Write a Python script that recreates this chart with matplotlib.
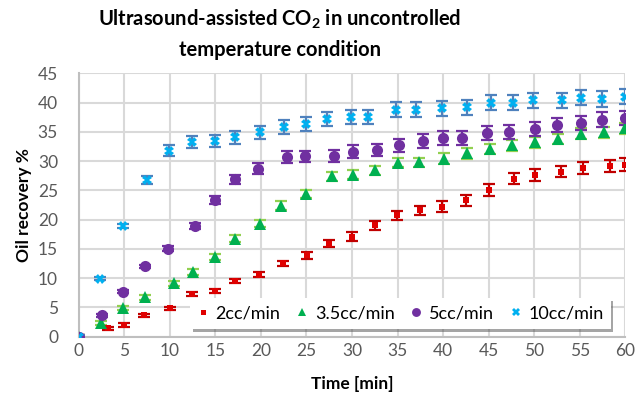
import matplotlib
matplotlib.use("Agg")
import matplotlib.pyplot as plt

plt.rcParams['font.family'] = ['Lato', 'DejaVu Sans']
plt.rcParams['mathtext.fontset'] = 'custom'
plt.rcParams['mathtext.rm'] = 'Lato'
plt.rcParams['mathtext.bf'] = 'Lato:bold'

#------------------------------------------------------------------------------
#   DATA
#------------------------------------------------------------------------------
t_2cc = [0, 3.2, 5, 7.1, 10, 12.4, 15, 17.2, 19.8, 22.4, 25.1, 27.5, 30,
         32.5, 34.9, 37.5, 39.9, 42.5, 45, 47.8, 50.1, 52.9, 55.4, 58.3, 60]
oil_2cc = [0, 1.4, 2.0, 3.6, 4.8, 7.3, 7.8, 9.5, 10.6, 12.5, 13.9, 15.9, 17.1,
           19.0, 20.7, 21.6, 22.2, 23.3, 25.1, 27.0, 27.6, 28.2, 28.8, 29.2, 29.4]
err_2cc = [0.2, 0.3, 0.3, 0.3, 0.3, 0.3, 0.4, 0.4, 0.5, 0.5, 0.6, 0.6, 0.7,
           0.8, 0.8, 0.8, 0.9, 0.9, 1.0, 1.0, 1.0, 1.0, 1.0, 1.0, 1.1]

t_35cc = [0, 2.4, 4.9, 7.3, 10.4, 12.5, 14.9, 17.1, 19.9, 22.2, 24.9, 27.8, 30.1,
          32.5, 35.1, 37.4, 40.1, 42.6, 45.1, 47.6, 50.1, 52.6, 55.2, 57.7, 60]
oil_35cc = [0, 2.3, 4.9, 6.7, 9.1, 11.0, 13.6, 16.7, 19.3, 22.4, 24.3, 27.4, 27.7,
            28.4, 29.7, 29.8, 30.4, 31.3, 32.1, 32.7, 33.2, 33.8, 34.7, 34.9, 35.6]
err_35cc = [0.2, 0.3, 0.3, 0.4, 0.4, 0.5, 0.5, 0.6, 0.6, 0.7, 0.7, 0.8, 0.8,
            0.8, 0.8, 0.8, 0.9, 0.9, 0.9, 0.9, 0.9, 0.9, 0.9, 0.9, 0.9]

t_5cc = [0, 2.5, 4.9, 7.3, 9.8, 12.8, 14.9, 17.2, 19.7, 22.9, 24.8, 28, 30.1,
         32.7, 35.2, 37.8, 40, 42.1, 44.8, 47.2, 50.1, 52.5, 55.1, 57.4, 60]
oil_5cc = [0, 3.6, 7.7, 12.0, 15.0, 18.9, 23.3, 26.9, 28.7, 30.7, 30.8, 30.9, 31.6,
           31.9, 32.7, 33.5, 33.9, 34.0, 34.8, 34.9, 35.4, 36.2, 36.5, 37.1, 37.4]
err_5cc = [0.2, 0.3, 0.3, 0.3, 0.4, 0.5, 0.7, 0.8, 0.9, 1.0, 1.0, 1.0, 1.1,
           1.1, 1.1, 1.2, 1.2, 1.2, 1.2, 1.2, 1.2, 1.2, 1.2, 1.2, 1.2]

t_10cc = [0, 2.3, 4.8, 7.5, 9.9, 12.4, 14.9, 17.1, 19.9, 22.5, 25, 27.3, 29.9,
          31.8, 34.8, 37, 39.9, 42.6, 45.3, 47.7, 49.9, 53.1, 55.2, 57.4, 60]
oil_10cc = [0, 9.9, 18.9, 26.7, 31.8, 33.2, 33.4, 34.1, 34.9, 35.8, 36.3, 37.2, 37.6,
            37.6, 38.8, 38.8, 39.0, 39.2, 40.0, 40.0, 40.4, 40.4, 40.8, 40.6, 41.0]
err_10cc = [0.2, 0.3, 0.4, 0.7, 0.9, 1.0, 1.0, 1.1, 1.1, 1.2, 1.2, 1.2, 1.2,
            1.2, 1.3, 1.3, 1.3, 1.3, 1.3, 1.3, 1.3, 1.3, 1.3, 1.3, 1.3]

labels = ['2cc/min', '3.5cc/min', '5cc/min', '10cc/min']

#------------------------------------------------------------------------------
#   PLOT
#------------------------------------------------------------------------------
fig = plt.figure(figsize=(6.36, 4.05), dpi=100)
ax = fig.add_axes([0.124, 0.169, 0.859, 0.650])

series = [
    (t_2cc, oil_2cc, err_2cc, 's', 4.5, '#E00000', '#C00000'),
    (t_35cc, oil_35cc, err_35cc, '^', 8, '#00B050', '#92D050'),
    (t_5cc, oil_5cc, err_5cc, 'o', 8, '#7030A0', '#7030A0'),
    (t_10cc, oil_10cc, err_10cc, 'X', 7, '#00B0F0', '#4F81BD'),
]

handles = []
for (t, y, e, m, ms, c, ec), lab in zip(series, labels):
    ax.errorbar(t, y, yerr=e, fmt='none', ecolor=ec, elinewidth=1.6,
                capsize=4.5, capthick=1.6, zorder=3)
    h, = ax.plot(t, y, linestyle='none', marker=m, markersize=ms,
                 color=c, markeredgewidth=0, zorder=4, label=lab)
    handles.append(h)

ax.set_xlim(0, 60)
ax.set_ylim(0, 45)
ax.set_xticks(range(0, 61, 5))
ax.set_yticks(range(0, 46, 5))
ax.grid(True, color='#D9D9D9', linewidth=1.5)
ax.set_axisbelow(True)
for s in ax.spines.values():
    s.set_visible(False)
for side in ('left', 'bottom'):
    ax.spines[side].set_visible(True)
    ax.spines[side].set_color('#BFBFBF')
    ax.spines[side].set_linewidth(1.5)
ax.tick_params(length=0, labelsize=12.5, colors='#595959')
ax.tick_params(axis='x', pad=5)
ax.tick_params(axis='y', pad=15)

ax.set_xlabel('Time [min]', fontsize=12.5, fontweight='bold', labelpad=12)
ax.set_ylabel('Oil recovery %', fontsize=12.5, fontweight='bold', labelpad=4)

fig.text(0.44, 0.98, 'Ultrasound-assisted CO$_\\mathbf{2}$ in uncontrolled\ntemperature condition',
         ha='center', va='top', fontsize=14.5, fontweight='bold',
         linespacing=1.55)

leg = ax.legend(handles=handles, loc='lower right', ncol=4, fontsize=13,
                frameon=True, fancybox=False, shadow=True, borderpad=0.4,
                handlelength=0.6, handletextpad=0.4, columnspacing=0.9,
                bbox_to_anchor=(0.99, -0.005), markerscale=0.8)
leg.get_frame().set_edgecolor('white')
leg.get_frame().set_linewidth(0)

fig.savefig('out.png', dpi=100)
